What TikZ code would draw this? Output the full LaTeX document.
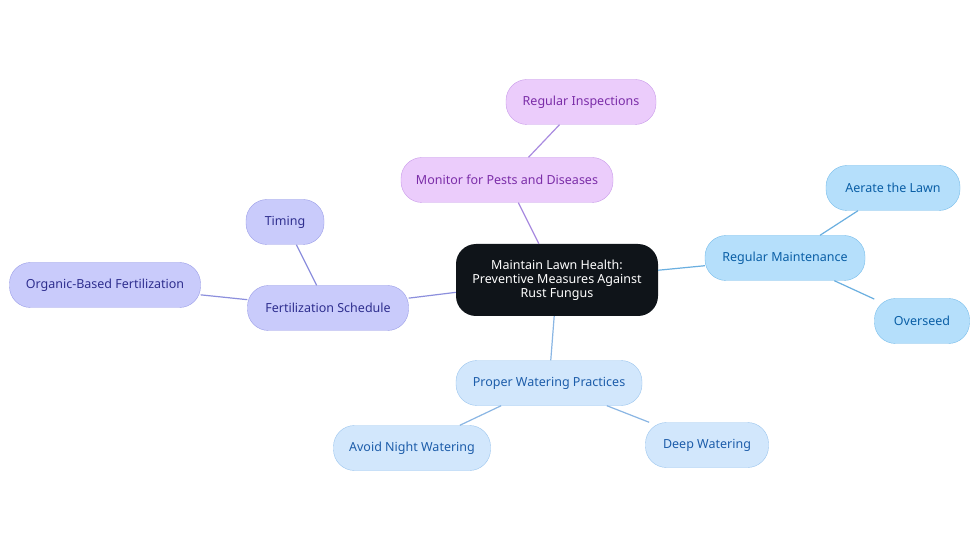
\documentclass[tikz,border=0pt]{standalone}
\usepackage{fontspec}
\setmainfont{Noto Sans}
\definecolor{rootbg}{HTML}{0F1419}
\definecolor{pfill}{HTML}{EBCCFB}
\definecolor{pdraw}{HTML}{C99BEA}
\definecolor{ptext}{HTML}{7B2DA8}
\definecolor{pline}{HTML}{A98BE0}
\definecolor{ffill}{HTML}{C9CBFB}
\definecolor{fdraw}{HTML}{9C9FE8}
\definecolor{ftext}{HTML}{2F2F8F}
\definecolor{fline}{HTML}{8C8FDD}
\definecolor{mfill}{HTML}{B5DFFB}
\definecolor{mdraw}{HTML}{78BDEB}
\definecolor{mtext}{HTML}{0A5FA6}
\definecolor{mline}{HTML}{6AAFE0}
\definecolor{wfill}{HTML}{D2E7FC}
\definecolor{wdraw}{HTML}{9CC6EF}
\definecolor{wtext}{HTML}{1D5DAA}
\definecolor{wline}{HTML}{8AB6E4}
\tikzset{
  pill/.style={rounded corners=21pt, minimum height=45pt, inner sep=0pt,
    font=\fontsize{12.5}{15}\selectfont},
  purple/.style={pill, fill=pfill, draw=pdraw, text=ptext},
  fert/.style={pill, fill=ffill, draw=fdraw, text=ftext},
  maint/.style={pill, fill=mfill, draw=mdraw, text=mtext},
  water/.style={pill, fill=wfill, draw=wdraw, text=wtext},
}
\begin{document}
\begin{tikzpicture}[x=1pt, y=-1pt]
  \useasboundingbox[fill=white] (0,0) rectangle (980,553);

  % center
  \node[fill=rootbg, rounded corners=20pt, minimum width=202pt, minimum height=72pt,
    text=white, align=center, font=\fontsize{12.5}{14}\selectfont] (root) at (557,280)
    {Maintain Lawn Health:\\Preventive Measures Against\\Rust Fungus};

  % branches
  \node[purple, minimum width=212pt] (monitor) at (507,180) {Monitor for Pests and Diseases};
  \node[purple, minimum width=150pt] (inspect) at (581,102) {Regular Inspections};

  \node[maint, minimum width=160pt] (maint) at (785,258) {Regular Maintenance};
  \node[maint, minimum width=134pt] (aerate) at (893,188) {Aerate the Lawn};
  \node[maint, minimum width=95pt] (overseed) at (922,321) {Overseed};

  \node[water, minimum width=186pt] (water) at (549,383) {Proper Watering Practices};
  \node[water, minimum width=157pt] (night) at (412,448) {Avoid Night Watering};
  \node[water, minimum width=123pt] (deep) at (707,445) {Deep Watering};

  \node[fert, minimum width=161pt] (fert) at (328,308) {Fertilization Schedule};
  \node[fert, minimum width=78pt] (timing) at (285,222) {Timing};
  \node[fert, minimum width=191pt] (organic) at (105,285) {Organic-Based Fertilization};

  % connectors
  \draw[pline, line width=1.2pt] (root) -- (monitor);
  \draw[pline, line width=1.2pt] (monitor) -- (inspect);
  \draw[mline, line width=1.2pt] (root) -- (maint);
  \draw[mline, line width=1.2pt] (maint) -- (aerate);
  \draw[mline, line width=1.2pt] (maint) -- (overseed);
  \draw[wline, line width=1.2pt] (root) -- (water);
  \draw[wline, line width=1.2pt] (water) -- (night);
  \draw[wline, line width=1.2pt] (water) -- (deep);
  \draw[fline, line width=1.2pt] (root) -- (fert);
  \draw[fline, line width=1.2pt] (fert) -- (timing);
  \draw[fline, line width=1.2pt] (fert) -- (organic);
\end{tikzpicture}
\end{document}
